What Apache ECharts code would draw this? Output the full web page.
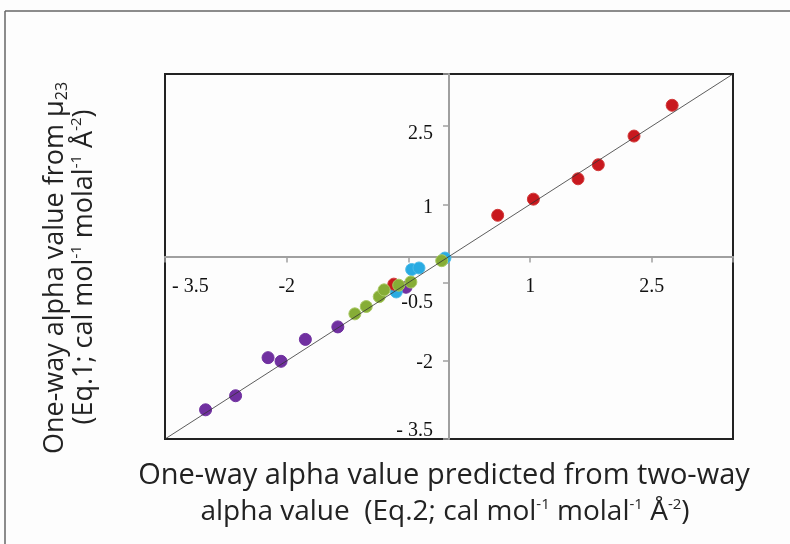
<!DOCTYPE html>
<html>
<head>
<meta charset="utf-8">
<script src="https://cdn.jsdelivr.net/npm/echarts@6/dist/echarts.min.js"></script>
<style>
html,body{margin:0;padding:0;background:#fdfdfd;}
#main{width:790px;height:544px;}
</style>
</head>
<body>
<div id="main"></div>
<script>
// 数据：点 [x, y]
var purplePts = [[-3.00,-2.94],[-2.63,-2.67],[-2.23,-1.94],[-2.07,-2.01],[-1.77,-1.59],[-1.37,-1.35],[-0.53,-0.59]];
var bluePts = [[-0.05,-0.03],[-0.46,-0.25],[-0.37,-0.22],[-0.65,-0.68]];
var redPts = [[0.60,0.79],[1.04,1.10],[1.59,1.49],[1.84,1.76],[2.28,2.31],[2.75,2.90],[-0.68,-0.53]];
var greenPts = [[-1.16,-1.10],[-1.02,-0.96],[-0.86,-0.77],[-0.80,-0.64],[-0.62,-0.55],[-0.47,-0.49],[-0.09,-0.08]];
// y = x 参考线
var identityLine = [[-3.5,-3.5],[3.5,3.5]];
// 刻度
var axisMin = -3.5, axisMax = 3.5, tickStep = 1.5;

var serif = 'Liberation Serif';
var sans = 'Open Sans';
var gridW = 568, gridH = 365;

var myChart = echarts.init(document.getElementById('main'));

function dot(name, data, color, border){
    return {
        name: name,
        type: 'scatter',
        data: data,
        symbolSize: 12,
        itemStyle: {color: color, borderColor: border || color, borderWidth: 1, opacity: 1},
        silent: true
    };
}

var option = {
    backgroundColor: '#fdfdfd',
    animation: false,
    grid: {
        left: 165, top: 74, width: gridW, height: gridH,
        show: true, borderColor: '#222', borderWidth: 2, backgroundColor: 'transparent'
    },
    xAxis: {
        type: 'value',
        position: 'bottom',
        offset: -gridH / 2,   // 轴线移到 y=0 处（标签跟着走）
        min: axisMin, max: axisMax, interval: tickStep,
        splitLine: {show: false},
        axisLine: {onZero: false, lineStyle: {color: '#a0a0a0', width: 2}},
        axisTick: {show: true, length: 6, lineStyle: {color: '#a0a0a0', width: 1.5}},
        axisLabel: {
            margin: 20, color: '#111', fontFamily: serif, fontSize: 20,
            alignMinLabel: 'left',
            formatter: function(v){
                if (v === -0.5 || v === 3.5) return '';
                if (v === -3.5) return '{m|- 3.5}';
                return String(v);
            },
            rich: {m: {fontFamily: serif, fontSize: 20, color: '#111', padding: [0,0,0,7]}}
        }
    },
    yAxis: {
        type: 'value',
        position: 'left',
        offset: -gridW / 2,
        min: axisMin, max: axisMax, interval: tickStep,
        splitLine: {show: false},
        axisLine: {onZero: false, lineStyle: {color: '#a0a0a0', width: 2}},
        axisTick: {show: true, length: 6, lineStyle: {color: '#a0a0a0', width: 1.5}},
        axisLabel: {
            margin: 16, color: '#111', fontFamily: serif, fontSize: 20,
            formatter: function(v){
                if (v === 3.5) return '';
                if (v === -3.5) return '{up|- 3.5}';
                if (v === -0.5) return '{d20|-0.5}';
                if (v === 2.5) return '{d8|2.5}';
                if (v === 1) return '{d4|1}';
                return '{d2|' + v + '}';
            },
            rich: {
                up: {fontFamily: serif, fontSize: 20, color: '#111', padding: [0,0,16,0]},
                d20: {fontFamily: serif, fontSize: 20, color: '#111', padding: [40,0,0,0]},
                d8: {fontFamily: serif, fontSize: 20, color: '#111', padding: [16,0,0,0]},
                d4: {fontFamily: serif, fontSize: 20, color: '#111', padding: [7,0,0,0]},
                d2: {fontFamily: serif, fontSize: 20, color: '#111', padding: [4,0,0,0]}
            }
        }
    },
    graphic: [
        // 外框
        {type: 'line', shape: {x1: 5, y1: 11, x2: 790, y2: 11}, style: {stroke: '#666', lineWidth: 1.5}},
        {type: 'line', shape: {x1: 5, y1: 11, x2: 5, y2: 544}, style: {stroke: '#666', lineWidth: 1.5}},
        // x 轴标题
        {type: 'text', x: 444, y: 476,
            style: {text: 'One-way alpha value predicted from two-way', fill: '#222',
                fontFamily: sans, fontSize: 29, align: 'center', verticalAlign: 'middle',
                textAlign: 'center', textVerticalAlign: 'middle'}},
        {type: 'text', x: 445, y: 512,
            style: {text: '{t|alpha value  (Eq.2; cal mol}{s|-1}{t| molal}{s|-1}{t| Å}{s|-2}{t|)}', fill: '#222',
                fontFamily: sans, fontSize: 28, align: 'center', verticalAlign: 'middle',
                textAlign: 'center', textVerticalAlign: 'middle',
                rich: {
                    t: {fontFamily: sans, fontSize: 28, lineHeight: 34, fill: '#222'},
                    s: {fontFamily: sans, fontSize: 15, verticalAlign: 'top', fill: '#222', padding: [2,0,0,0]}
                }}},
        // y 轴标题
        {type: 'text', x: 55, y: 268, rotation: Math.PI / 2,
            style: {text: '{t|One-way alpha value from μ}{b|23}', fill: '#222',
                fontFamily: sans, fontSize: 27, align: 'center', verticalAlign: 'middle',
                textAlign: 'center', textVerticalAlign: 'middle',
                rich: {
                    t: {fontFamily: sans, fontSize: 27, lineHeight: 34, fill: '#222'},
                    b: {fontFamily: sans, fontSize: 16, verticalAlign: 'bottom', fill: '#222', padding: [0,0,2,0]}
                }}},
        {type: 'text', x: 84, y: 267, rotation: Math.PI / 2,
            style: {text: '{t|(Eq.1; cal mol}{s|-1}{t| molal}{s|-1}{t| Å}{s|-2}{t|)}', fill: '#222',
                fontFamily: sans, fontSize: 27, align: 'center', verticalAlign: 'middle',
                textAlign: 'center', textVerticalAlign: 'middle',
                rich: {
                    t: {fontFamily: sans, fontSize: 27, lineHeight: 34, fill: '#222'},
                    s: {fontFamily: sans, fontSize: 15, verticalAlign: 'top', fill: '#222', padding: [2,0,0,0]}
                }}}
    ],
    series: [
        dot('purple', purplePts, '#7030a0'),
        dot('blue', bluePts, '#29abe2', '#4cbbe8'),
        dot('red', redPts, '#c8181e', '#d23a3a'),
        dot('green', greenPts, '#86ad36', '#a8c862'),
        {
            type: 'line',
            data: identityLine,
            symbol: 'none',
            z: 5,
            silent: true,
            lineStyle: {color: '#333', width: 0.8}
        }
    ]
};

myChart.setOption(option);
</script>
</body>
</html>
